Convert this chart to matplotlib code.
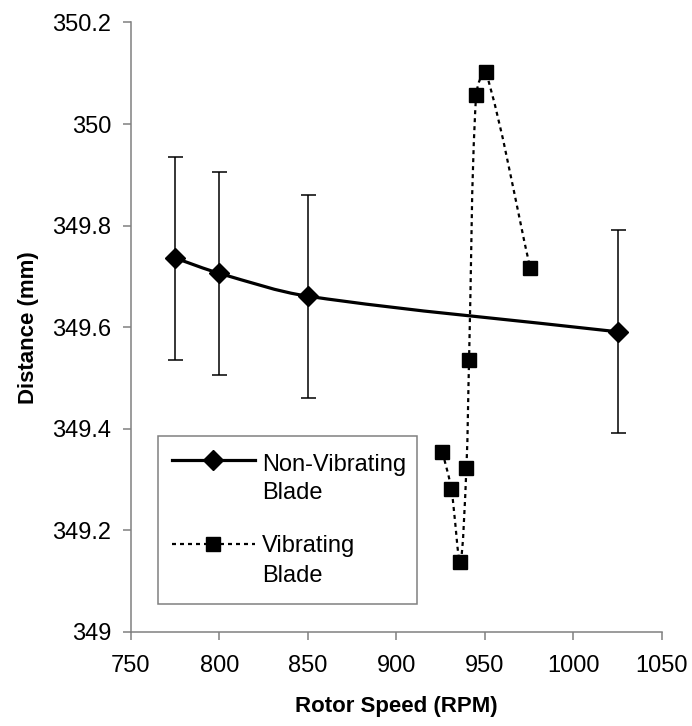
import numpy as np
import matplotlib
matplotlib.use("Agg")
import matplotlib.pyplot as plt
from matplotlib.path import Path
from matplotlib.patches import PathPatch, Rectangle
from matplotlib.lines import Line2D

plt.rcParams['font.family'] = ['Liberation Sans', 'DejaVu Sans']

# Non-vibrating blade: mean distance with error bars
rpm_nv = [775, 800, 850, 1025]
dist_nv = [349.736, 349.706, 349.661, 349.591]
err_nv = [0.2, 0.2, 0.2, 0.2]

# Vibrating blade (in drawing order)
rpm_v = [926, 931, 936, 939.5, 941, 945, 950.5, 975.5]
dist_v = [349.354, 349.281, 349.138, 349.323, 349.535, 350.058, 350.102, 349.717]

xticks = [750, 800, 850, 900, 950, 1000, 1050]
yticks = [349, 349.2, 349.4, 349.6, 349.8, 350, 350.2]
yticklabels = ['349', '349.2', '349.4', '349.6', '349.8', '350', '350.2']


def smooth_path(ax, xs, ys):
    # smoothed line like Excel: bezier controls worked out in screen space,
    # weighted by segment lengths so short hops don't overshoot
    tr = ax.transData
    pts = tr.transform(np.column_stack([xs, ys]))
    n = len(pts)

    def P(i):
        return pts[min(max(i, 0), n - 1)]

    def L(a, b):
        return np.hypot(*(P(b) - P(a)))

    verts = [pts[0]]
    codes = [Path.MOVETO]
    for i in range(n - 1):
        d01, d12, d23 = L(i - 1, i), L(i, i + 1), L(i + 1, i + 2)
        c1 = P(i) + (P(i + 1) - P(i - 1)) * d12 / (d01 + d12) / 3.0
        c2 = P(i + 1) - (P(i + 2) - P(i)) * d12 / (d12 + d23) / 3.0
        verts += [c1, c2, P(i + 1)]
        codes += [Path.CURVE4] * 3
    verts = tr.inverted().transform(np.array(verts))
    return Path(verts, codes)


fig = plt.figure(figsize=(6.92, 7.26), dpi=100)
ax = fig.add_axes([0.1893, 0.1295, 0.7673, 0.8396])
ax.set_xlim(750, 1050)
ax.set_ylim(349, 350.2)

ax.errorbar(rpm_nv, dist_nv, yerr=err_nv, fmt='none', ecolor='black',
            elinewidth=1.1, capsize=5.4, capthick=1.1, zorder=2)
ax.add_patch(PathPatch(smooth_path(ax, rpm_nv, dist_nv), fill=False,
                       edgecolor='black', lw=2.3, zorder=3))
ax.plot(rpm_nv, dist_nv, linestyle='none', marker='D', ms=10,
        color='black', zorder=4)

ax.add_patch(PathPatch(smooth_path(ax, rpm_v, dist_v), fill=False,
                       edgecolor='black', lw=1.6, linestyle=(0, (1.8, 1.8)),
                       zorder=3))
ax.plot(rpm_v, dist_v, linestyle='none', marker='s', ms=10,
        color='black', zorder=4)

ax.set_xticks(xticks)
ax.set_yticks(yticks)
ax.set_yticklabels(yticklabels)

for s in ['top', 'right']:
    ax.spines[s].set_visible(False)
for s in ['left', 'bottom']:
    ax.spines[s].set_color('#808080')
    ax.spines[s].set_linewidth(1.1)
ax.tick_params(axis='both', direction='out', length=5.5, width=1.1,
               color='#808080', labelsize=17, pad=8.5)
ax.tick_params(axis='x', pad=11)

ax.set_xlabel('Rotor Speed (RPM)', fontsize=16, fontweight='bold', labelpad=14)
ax.set_ylabel('Distance (mm)', fontsize=16, fontweight='bold', labelpad=10)

# legend box drawn by hand so handles line up with the first text line
ax.add_patch(Rectangle((0.0508, 0.0459), 0.4878, 0.2756, transform=ax.transAxes,
                       fill=False, edgecolor='#808080', lw=1.1, zorder=5))
ax.add_line(Line2D([0.077, 0.2335], [0.282, 0.282], transform=ax.transAxes,
                   color='black', lw=2.3, zorder=6))
ax.add_line(Line2D([0.155], [0.282], transform=ax.transAxes, marker='D', ms=10,
                   color='black', linestyle='none', zorder=7))
ax.add_line(Line2D([0.077, 0.2335], [0.1444, 0.1444], transform=ax.transAxes,
                   color='black', lw=1.6, linestyle=(0, (1.8, 1.8)), zorder=6))
ax.add_line(Line2D([0.155], [0.1444], transform=ax.transAxes, marker='s', ms=10,
                   color='black', linestyle='none', zorder=7))
for txt, yy in [('Non-Vibrating', 0.2646), ('Blade', 0.2182),
                ('Vibrating', 0.1317), ('Blade', 0.0825)]:
    ax.text(0.2467, yy, txt, transform=ax.transAxes, fontsize=17,
            va='baseline', ha='left', zorder=7)

fig.savefig('out.png', dpi=100)
